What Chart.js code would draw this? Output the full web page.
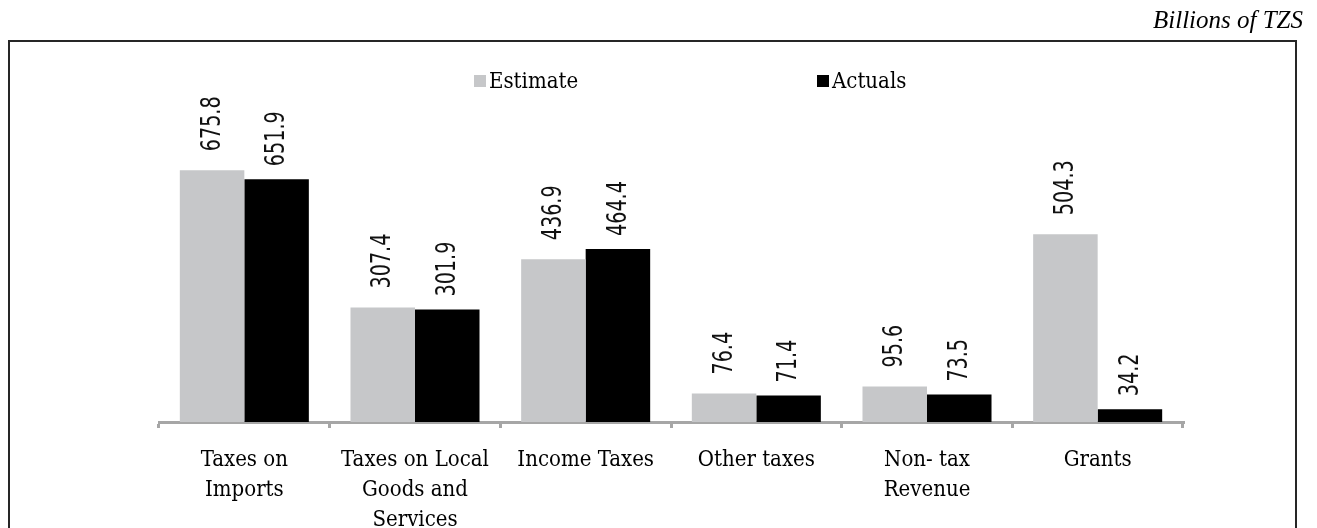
<!DOCTYPE html>
<html>
<head>
<meta charset="utf-8">
<script src="https://cdn.jsdelivr.net/npm/chart.js@4.4.1/dist/chart.umd.min.js"></script>
<style>
  html, body { margin: 0; padding: 0; background: #fff; }
  #wrap { width: 1317px; height: 528px; }
</style>
</head>
<body>
<div id="wrap"><canvas id="revenueChart" width="1317" height="528"></canvas></div>
<script>
// categories + values (billions of TZS)
const categories = [
  ['Taxes on', 'Imports'],
  ['Taxes on Local', 'Goods and', 'Services'],
  ['Income Taxes'],
  ['Other taxes'],
  ['Non- tax', 'Revenue'],
  ['Grants']
];
const estimate = [675.8, 307.4, 436.9, 76.4, 95.6, 504.3];
const actuals = [651.9, 301.9, 464.4, 71.4, 73.5, 34.2];
const unitLabel = 'Billions of TZS';

const serif = '"DejaVu Serif Condensed", "DejaVu Serif", serif';
const narrow = '"DejaVu Sans Condensed", "DejaVu Sans", sans-serif';

// frame, unit note and the hand placed legend
const framePlugin = {
  id: 'frame',
  beforeDraw(chart) {
    const c = chart.ctx;
    c.save();
    c.fillStyle = '#fff';
    c.fillRect(0, 0, chart.width, chart.height);
    c.strokeStyle = '#262626';
    c.lineWidth = 2;
    c.strokeRect(9, 41, 1287, 520);
    c.fillStyle = '#000';
    c.font = 'italic 25px "Liberation Serif", serif';
    c.textAlign = 'right';
    c.textBaseline = 'alphabetic';
    c.fillText(unitLabel, 1303, 28);

    // legend
    const items = [[474, 0], [817, 1]];
    c.font = '22px ' + serif;
    c.textAlign = 'left';
    items.forEach(([x, i]) => {
      const ds = chart.data.datasets[i];
      c.fillStyle = ds.backgroundColor;
      c.fillRect(x, 75, 12, 12);
      c.fillStyle = '#000';
      c.fillText(ds.label, x + 15, 88);
    });
    c.restore();
  }
};

// vertical value labels above each bar
const valueLabels = {
  id: 'valueLabels',
  afterDatasetsDraw(chart) {
    const c = chart.ctx;
    c.save();
    c.font = '26px ' + narrow;
    c.fillStyle = '#111';
    c.textAlign = 'left';
    c.textBaseline = 'middle';
    chart.data.datasets.forEach((ds, i) => {
      const gap = i === 0 ? 19 : 13;
      chart.getDatasetMeta(i).data.forEach((bar, j) => {
        c.save();
        c.translate(bar.x, bar.y - gap);
        c.rotate(-Math.PI / 2);
        c.scale(0.82, 1); // narrow digits like the original
        c.fillText(ds.data[j].toFixed(1), 0, 1);
        c.restore();
      });
    });
    c.restore();
  }
};

const ctx = document.getElementById('revenueChart').getContext('2d');
const revenueChart = new Chart(ctx, {
  type: 'bar',
  data: {
    labels: categories,
    datasets: [
      {
        label: 'Estimate',
        data: estimate,
        backgroundColor: '#c6c7c9',
        barPercentage: 1.0,
        categoryPercentage: 0.756
      },
      {
        label: 'Actuals',
        data: actuals,
        backgroundColor: '#000000',
        barPercentage: 1.0,
        categoryPercentage: 0.756
      }
    ]
  },
  options: {
    responsive: false,
    animation: false,
    layout: { padding: { left: 159, right: 134, top: 124, bottom: 0 } },
    plugins: {
      legend: { display: false },
      tooltip: { enabled: false }
    },
    scales: {
      x: {
        border: { color: '#a6a6a6', width: 3 },
        grid: {
          drawOnChartArea: false,
          color: '#a6a6a6',
          lineWidth: 3,
          tickLength: 6
        },
        ticks: {
          color: '#000',
          font: { family: serif, size: 22, lineHeight: 1.36 },
          padding: 17,
          maxRotation: 0,
          autoSkip: false
        },
        afterFit(scale) { scale.height = 106; }
      },
      y: {
        display: false,
        min: 0,
        max: 800
      }
    }
  },
  plugins: [framePlugin, valueLabels]
});
</script>
</body>
</html>
